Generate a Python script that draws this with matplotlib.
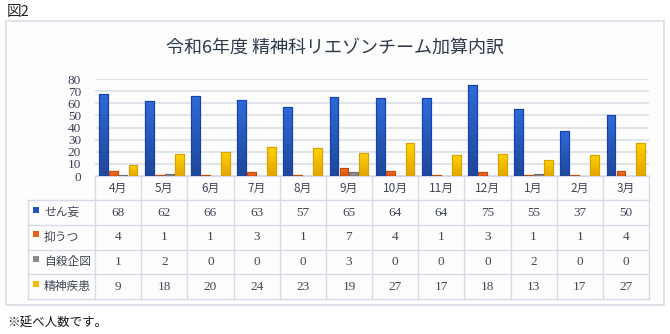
import matplotlib
matplotlib.use("Agg")
import matplotlib.pyplot as plt
import numpy as np
from matplotlib.patches import Rectangle
from matplotlib.colors import LinearSegmentedColormap

plt.rcParams['font.family'] = ['Noto Sans CJK JP', 'DejaVu Sans']

months = ["4月", "5月", "6月", "7月", "8月", "9月", "10月", "11月", "12月", "1月", "2月", "3月"]
series_names = ["せん妄", "抑うつ", "自殺企図", "精神疾患"]
delirium = [68, 62, 66, 63, 57, 65, 64, 64, 75, 55, 37, 50]
depression = [4, 1, 1, 3, 1, 7, 4, 1, 3, 1, 1, 4]
suicide = [1, 2, 0, 0, 0, 3, 0, 0, 0, 2, 0, 0]
mental = [9, 18, 20, 24, 23, 19, 27, 17, 18, 13, 17, 27]
series = [delirium, depression, suicide, mental]
yticks = [0, 10, 20, 30, 40, 50, 60, 70, 80]

title = "令和6年度 精神科リエゾンチーム加算内訳"
fig_label = "図2"
footnote = "※延べ人数です。"

grad = [("#2e6ad8", "#1f4799"), ("#f77a2a", "#d9520d"), ("#a3a3a3", "#7c7c7c"), ("#ffd400", "#e2a400")]
edges = ["#1540b0", "#c44a08", "#6e6e6e", "#d9a000"]
keys = ["#2453b8", "#e8601c", "#8a8a8a", "#f2bd00"]

W, H = 670, 334
fig = plt.figure(figsize=(W / 100, H / 100), dpi=100)
fig.patch.set_facecolor("white")

ov = fig.add_axes([0, 0, 1, 1])
ov.set_xlim(0, W)
ov.set_ylim(H, 0)
ov.axis("off")
ov.add_patch(Rectangle((6, 21), 658, 284, facecolor="#fdfdfe", edgecolor="#d8dde6", lw=1.2))
ov.text(7, 12, fig_label, fontsize=10.5, color="#222222", ha="left", va="center")
ov.text(7, 323, footnote, fontsize=9, color="#111111", ha="left", va="center")
ov.text(335, 48, title, fontsize=13, color="#2e3a4a", ha="center", va="center")

left, right, top, bot = 95, 649, 79, 176
ax = fig.add_axes([left / W, 1 - bot / H, (right - left) / W, (bot - top) / H])
ax.set_facecolor("none")
ax.set_xlim(-0.5, len(months) - 0.5)
ax.set_ylim(0, 80)
ax.set_yticks(yticks)
ax.set_yticklabels([str(v) for v in yticks], family=["Liberation Serif"], fontsize=9.5, color="#3a4050")
ax.tick_params(axis="y", length=0, pad=10)
ax.set_xticks([])
for s in ax.spines.values():
    s.set_visible(False)
ax.yaxis.grid(True, color="#dde2ea", lw=1.3)
ax.set_axisbelow(True)

x = np.arange(len(months))
bw = 0.19
offs = np.array([-1.5, -0.5, 0.5, 1.5]) * 0.215
for i, vals in enumerate(series):
    bars = ax.bar(x + offs[i], vals, width=bw, color=grad[i][0], edgecolor=edges[i], lw=0.8, zorder=3)
    cmap = LinearSegmentedColormap.from_list("g%d" % i, [grad[i][1], grad[i][0]])
    for b in bars:
        h = b.get_height()
        if h <= 0:
            continue
        bx = b.get_x()
        im = ax.imshow(np.linspace(0, 1, 64).reshape(-1, 1), cmap=cmap, aspect="auto",
                       extent=(bx, bx + b.get_width(), 0, h), origin="lower", zorder=3.5)
        im.set_clip_path(b)
    ax.set_xlim(-0.5, len(months) - 0.5)
    ax.set_ylim(0, 80)
    for b in bars:
        if b.get_height() > 0:
            ax.add_patch(Rectangle((b.get_x(), 0), b.get_width(), b.get_height(), fill=False,
                                   edgecolor=edges[i], lw=0.8, zorder=4))

# data table
colw = (right - left) / len(months)
rows = [176, 200, 225, 249.5, 274, 299]
lab_left = 28
lc = "#d5dbe6"
ov.plot([left, right], [rows[0], rows[0]], color=lc, lw=1)
for r in rows[1:]:
    ov.plot([lab_left, right], [r, r], color=lc, lw=1)
for j in range(len(months) + 1):
    xx = left + j * colw
    ov.plot([xx, xx], [rows[0], rows[-1]], color=lc, lw=1)
ov.plot([lab_left, lab_left], [rows[1], rows[-1]], color=lc, lw=1)

for j, m in enumerate(months):
    ov.text(left + (j + 0.5) * colw, (rows[0] + rows[1]) / 2, m, fontsize=8.5,
            color="#404652", ha="center", va="center")
for i, (name, vals) in enumerate(zip(series_names, series)):
    yc = (rows[i + 1] + rows[i + 2]) / 2
    ov.add_patch(Rectangle((33, yc - 6), 6, 6, facecolor=keys[i], edgecolor="none"))
    ov.text(44, yc, name, fontsize=8.5, color="#404652", ha="left", va="center")
    for j, v in enumerate(vals):
        ov.text(left + (j + 0.5) * colw, yc, str(v), fontsize=9.5, family=["Liberation Serif"],
                color="#404652", ha="center", va="center")

fig.savefig("out.png", dpi=100)
